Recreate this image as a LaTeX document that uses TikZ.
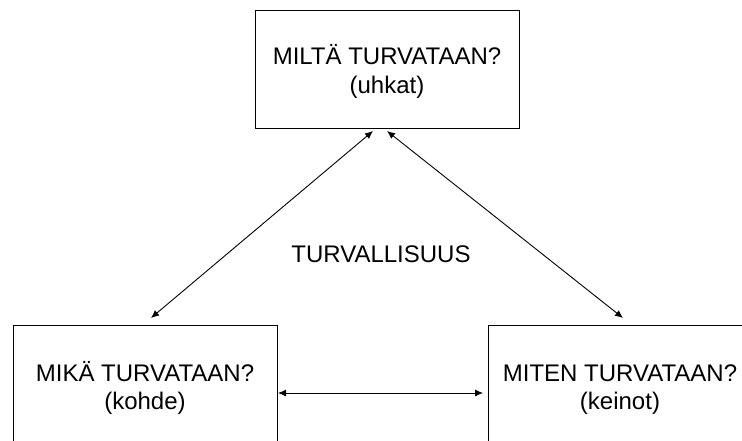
\documentclass[tikz,border=0pt]{standalone}
\usepackage{fontspec}
\setmainfont{Liberation Sans}
\usetikzlibrary{arrows.meta}
\begin{document}
\begin{tikzpicture}[x=1pt,y=-1pt,
  qbox/.style={draw=black, line width=1pt, minimum width=264pt, minimum height=118pt,
    inner sep=0pt, align=center, font=\fontsize{24}{28.5}\selectfont, text depth=5pt},
  lbl/.style={inner sep=0pt, font=\fontsize{24}{28.5}\selectfont},
  link/.style={line width=0.9pt, {Latex[length=8pt,width=7pt]}-{Latex[length=8pt,width=7pt]}}]
\clip (0,0) rectangle (742,441);
\node[qbox, text height=52pt] (top) at (387,70) {MILTÄ TURVATAAN?\\(uhkat)};
\node[qbox, text height=56pt] (left) at (145,384) {MIKÄ TURVATAAN?\\(kohde)};
\node[qbox, text height=56pt] (right) at (620,384) {MITEN TURVATAAN?\\(keinot)};
\node[lbl, anchor=base] (mid) at (381,262) {TURVALLISUUS};
\coordinate (tl) at (373,131);
\coordinate (tr) at (387,131);
\coordinate (lt) at (151,318);
\coordinate (rt) at (623,318);
\coordinate (hl) at (278,393);
\coordinate (hr) at (483,393);
\draw[link] (tl) -- (lt);
\draw[link] (tr) -- (rt);
\draw[link] (hl) -- (hr);
\end{tikzpicture}
\end{document}
